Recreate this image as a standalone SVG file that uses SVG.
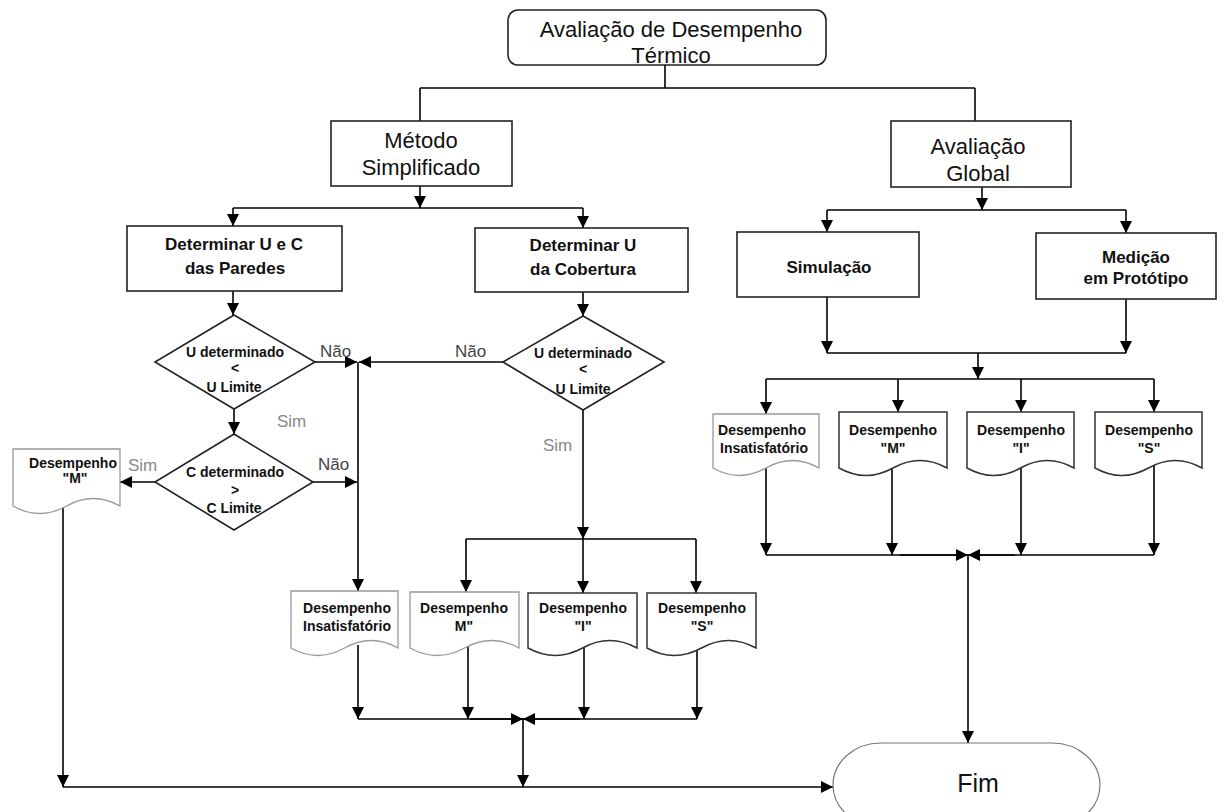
<svg xmlns="http://www.w3.org/2000/svg" width="1227" height="812" viewBox="0 0 1227 812">
<style>
text{font-family:"Liberation Sans",Arial,sans-serif;fill:#111;text-anchor:middle}
.big{font-size:22px}
.mid{font-size:17px;font-weight:bold}
.sm{font-size:14px;font-weight:bold}
.lbl{font-size:17px;text-anchor:start}
.nao{fill:#444}
.sim{fill:#888}
.box{fill:#fff;stroke:#222;stroke-width:1.6}
.dec{fill:#fff;stroke:#222;stroke-width:1.6}
.docl{fill:#fff;stroke:#999;stroke-width:1.3}
.docd{fill:#fff;stroke:#333;stroke-width:1.5}
.term{fill:#fff;stroke:#777;stroke-width:1.2}
.c line,.c path{stroke:#000;stroke-width:1.6;fill:none}
</style>
<defs>
<marker id="ah" markerUnits="userSpaceOnUse" markerWidth="12" markerHeight="12" refX="12" refY="6" orient="auto">
<path d="M0,0 L12,6 L0,12 z" fill="#000"/>
</marker>
</defs>
<g id="connectors" class="c">
<line x1="665" y1="65" x2="665" y2="88"/>
<line x1="420" y1="88" x2="975" y2="88"/>
<line x1="420" y1="88" x2="420" y2="121"/>
<line x1="975" y1="88" x2="975" y2="121"/>
<line x1="420" y1="186" x2="420" y2="208" marker-end="url(#ah)"/>
<line x1="233" y1="208" x2="583" y2="208"/>
<line x1="233" y1="208" x2="233" y2="226" marker-end="url(#ah)"/>
<line x1="583" y1="208" x2="583" y2="228" marker-end="url(#ah)"/>
<line x1="233" y1="291" x2="233" y2="315" marker-end="url(#ah)"/>
<line x1="583" y1="292" x2="583" y2="316" marker-end="url(#ah)"/>
<line x1="315" y1="362" x2="357" y2="362" marker-end="url(#ah)"/>
<line x1="503" y1="362" x2="359" y2="362" marker-end="url(#ah)"/>
<line x1="358" y1="362" x2="358" y2="591" marker-end="url(#ah)"/>
<line x1="234" y1="409" x2="234" y2="434" marker-end="url(#ah)"/>
<line x1="313" y1="482" x2="357" y2="482" marker-end="url(#ah)"/>
<line x1="155" y1="482" x2="120" y2="482" marker-end="url(#ah)"/>
<line x1="583" y1="410" x2="583" y2="539" marker-end="url(#ah)"/>
<line x1="466" y1="539" x2="696" y2="539"/>
<line x1="466" y1="539" x2="466" y2="592" marker-end="url(#ah)"/>
<line x1="583" y1="539" x2="583" y2="593" marker-end="url(#ah)"/>
<line x1="696" y1="539" x2="696" y2="593" marker-end="url(#ah)"/>
<line x1="358" y1="645" x2="358" y2="719" marker-end="url(#ah)"/>
<line x1="468" y1="645" x2="468" y2="719" marker-end="url(#ah)"/>
<line x1="584" y1="645" x2="584" y2="719" marker-end="url(#ah)"/>
<line x1="697" y1="645" x2="697" y2="719" marker-end="url(#ah)"/>
<line x1="358" y1="719" x2="697" y2="719"/>
<line x1="470" y1="719" x2="523" y2="719" marker-end="url(#ah)"/>
<line x1="580" y1="719" x2="523" y2="719" marker-end="url(#ah)"/>
<line x1="523" y1="719" x2="523" y2="787" marker-end="url(#ah)"/>
<line x1="63" y1="505" x2="63" y2="787" marker-end="url(#ah)"/>
<line x1="63" y1="787" x2="833" y2="787" marker-end="url(#ah)"/>
<line x1="982" y1="187" x2="982" y2="210" marker-end="url(#ah)"/>
<line x1="827" y1="210" x2="1126" y2="210"/>
<line x1="827" y1="210" x2="827" y2="232" marker-end="url(#ah)"/>
<line x1="1126" y1="210" x2="1126" y2="233" marker-end="url(#ah)"/>
<line x1="827" y1="297" x2="827" y2="353" marker-end="url(#ah)"/>
<line x1="1126" y1="299" x2="1126" y2="353" marker-end="url(#ah)"/>
<line x1="827" y1="353" x2="1126" y2="353"/>
<line x1="978" y1="353" x2="978" y2="379" marker-end="url(#ah)"/>
<line x1="766" y1="379" x2="1154" y2="379"/>
<line x1="766" y1="379" x2="766" y2="414" marker-end="url(#ah)"/>
<line x1="898" y1="379" x2="898" y2="412" marker-end="url(#ah)"/>
<line x1="1021" y1="379" x2="1021" y2="412" marker-end="url(#ah)"/>
<line x1="1154" y1="379" x2="1154" y2="412" marker-end="url(#ah)"/>
<line x1="766" y1="465" x2="766" y2="555" marker-end="url(#ah)"/>
<line x1="892" y1="465" x2="892" y2="555" marker-end="url(#ah)"/>
<line x1="1021" y1="465" x2="1021" y2="555" marker-end="url(#ah)"/>
<line x1="1154" y1="465" x2="1154" y2="555" marker-end="url(#ah)"/>
<line x1="766" y1="555" x2="1154" y2="555"/>
<line x1="900" y1="555" x2="968" y2="555" marker-end="url(#ah)"/>
<line x1="1015" y1="555" x2="968" y2="555" marker-end="url(#ah)"/>
<line x1="968" y1="555" x2="968" y2="743" marker-end="url(#ah)"/>
</g>
<g id="labels">
<text class="lbl nao" x="320" y="357">Não</text>
<text class="lbl nao" x="455" y="357">Não</text>
<text class="lbl sim" x="277" y="427">Sim</text>
<text class="lbl nao" x="318" y="470">Não</text>
<text class="lbl sim" x="128" y="471">Sim</text>
<text class="lbl sim" x="543" y="451">Sim</text>
</g>
<g id="n-title">
<rect class="box" x="508" y="10" width="318" height="55" rx="10"/>
<text class="big" x="671" y="37">Avaliação de Desempenho</text>
<text class="big" x="671" y="63">Térmico</text>
</g>
<g id="n-metodo">
<rect class="box" x="331" y="121" width="181" height="65"/>
<text class="big" x="421" y="148">Método</text>
<text class="big" x="421" y="175">Simplificado</text>
</g>
<g id="n-global">
<rect class="box" x="891" y="121" width="180" height="66"/>
<text class="big" x="978" y="154">Avaliação</text>
<text class="big" x="978" y="181">Global</text>
</g>
<g id="n-paredes">
<rect class="box" x="127" y="226" width="215" height="65"/>
<text class="mid" x="234" y="250">Determinar U e C</text>
<text class="mid" x="235" y="274">das Paredes</text>
</g>
<g id="n-cobertura">
<rect class="box" x="475" y="228" width="213" height="64"/>
<text class="mid" x="583" y="251">Determinar U</text>
<text class="mid" x="583" y="275">da Cobertura</text>
</g>
<g id="n-simulacao">
<rect class="box" x="737" y="232" width="182" height="65"/>
<text class="mid" x="829" y="273">Simulação</text>
</g>
<g id="n-medicao">
<rect class="box" x="1036" y="233" width="180" height="66"/>
<text class="mid" x="1136" y="263">Medição</text>
<text class="mid" x="1136" y="284">em Protótipo</text>
</g>
<g id="n-dec-u1">
<polygon class="dec" points="234,315 315,362 234,409 155,362"/>
<text class="sm" x="235" y="357">U determinado</text>
<text class="sm" x="235" y="373">&lt;</text>
<text class="sm" x="234" y="392">U Limite</text>
</g>
<g id="n-dec-c">
<polygon class="dec" points="234,434 313,482 234,530 155,482"/>
<text class="sm" x="235" y="477">C determinado</text>
<text class="sm" x="235" y="495">&gt;</text>
<text class="sm" x="234" y="513">C Limite</text>
</g>
<g id="n-dec-u2">
<polygon class="dec" points="583,316 664,362 583,410 503,362"/>
<text class="sm" x="583" y="358">U determinado</text>
<text class="sm" x="583" y="374">&lt;</text>
<text class="sm" x="583" y="394">U Limite</text>
</g>
<g id="n-doc-lm">
<path class="docl" d="M13,449 H120 V506 Q93.25,491 66.5,506 T13,506 Z"/>
<text class="sm" x="73" y="468">Desempenho</text>
<text class="sm" x="75" y="483">"M"</text>
</g>
<g id="n-doc-mi">
<path class="docl" d="M291,591 H398 V648 Q371.25,633 344.5,648 T291,648 Z"/>
<text class="sm" x="347" y="613">Desempenho</text>
<text class="sm" x="347" y="631">Insatisfatório</text>
</g>
<g id="n-doc-mm">
<path class="docl" d="M410,592 H519 V648 Q491.75,633 464.5,648 T410,648 Z"/>
<text class="sm" x="464" y="613">Desempenho</text>
<text class="sm" x="464" y="631">M"</text>
</g>
<g id="n-doc-mI">
<path class="docd" d="M528,593 H637 V648 Q609.75,633 582.5,648 T528,648 Z"/>
<text class="sm" x="583" y="613">Desempenho</text>
<text class="sm" x="583" y="631">"I"</text>
</g>
<g id="n-doc-mS">
<path class="docd" d="M647,593 H756 V648 Q728.75,633 701.5,648 T647,648 Z"/>
<text class="sm" x="702" y="613">Desempenho</text>
<text class="sm" x="702" y="631">"S"</text>
</g>
<g id="n-doc-ri">
<path class="docl" d="M713,414 H819 V468 Q792.5,453 766,468 T713,468 Z"/>
<text class="sm" x="762" y="435">Desempenho</text>
<text class="sm" x="764" y="453">Insatisfatório</text>
</g>
<g id="n-doc-rm">
<path class="docd" d="M839,412 H947 V468 Q920,453 893,468 T839,468 Z"/>
<text class="sm" x="893" y="435">Desempenho</text>
<text class="sm" x="893" y="453">"M"</text>
</g>
<g id="n-doc-rI">
<path class="docd" d="M967,412 H1074 V468 Q1047.25,453 1020.5,468 T967,468 Z"/>
<text class="sm" x="1021" y="435">Desempenho</text>
<text class="sm" x="1021" y="453">"I"</text>
</g>
<g id="n-doc-rS">
<path class="docd" d="M1095,412 H1202 V468 Q1175.25,453 1148.5,468 T1095,468 Z"/>
<text class="sm" x="1149" y="435">Desempenho</text>
<text class="sm" x="1149" y="453">"S"</text>
</g>
<g id="n-fim">
<rect class="term" x="833" y="743" width="267" height="84" rx="48" ry="42"/>
<text x="978" y="792" style="font-size:25px">Fim</text>
</g>
</svg>
